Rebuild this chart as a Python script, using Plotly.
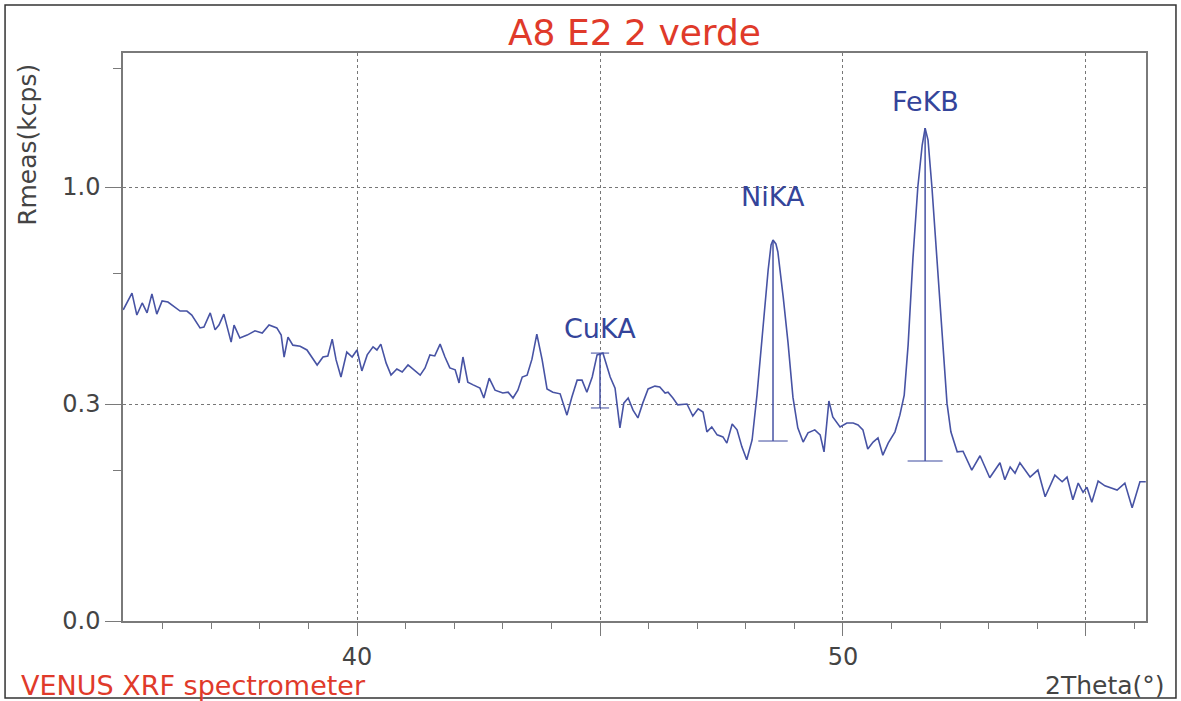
import numpy as np
import plotly.graph_objects as go

# ---- data (2Theta in degrees, Rmeas in kcps) ----
theta = [
    35.19, 35.37, 35.47, 35.58, 35.68, 35.78, 35.88, 35.99, 36.11, 36.26,
    36.36, 36.50, 36.60, 36.77, 36.85, 36.98, 37.08, 37.16, 37.26, 37.41,
    37.47, 37.59, 37.74, 37.90, 38.05, 38.19, 38.35, 38.44, 38.50, 38.58,
    38.68, 38.83, 38.97, 39.18, 39.30, 39.40, 39.49, 39.57, 39.67, 39.79,
    39.90, 40.00, 40.10, 40.21, 40.33, 40.41, 40.49, 40.60, 40.70, 40.82,
    40.93, 41.05, 41.15, 41.30, 41.40, 41.50, 41.60, 41.71, 41.81, 41.91,
    42.02, 42.10, 42.18, 42.28, 42.39, 42.53, 42.61, 42.72, 42.84, 43.00,
    43.11, 43.21, 43.31, 43.40, 43.50, 43.60, 43.70, 43.81, 43.91, 44.03,
    44.18, 44.32, 44.42, 44.53, 44.63, 44.73, 44.84, 44.94, 45.06, 45.21,
    45.31, 45.41, 45.49, 45.58, 45.68, 45.78, 45.88, 45.99, 46.13, 46.23,
    46.34, 46.40, 46.50, 46.60, 46.79, 46.91, 47.02, 47.12, 47.20, 47.30,
    47.41, 47.53, 47.61, 47.72, 47.82, 47.92, 48.02, 48.13, 48.23, 48.35,
    48.46, 48.52, 48.56, 48.62, 48.66, 48.77, 48.87, 48.97, 49.07, 49.18,
    49.28, 49.42, 49.53, 49.61, 49.71, 49.79, 49.94, 50.08, 50.21, 50.31,
    50.41, 50.51, 50.62, 50.72, 50.82, 50.93, 51.07, 51.17, 51.26, 51.34,
    51.44, 51.54, 51.63, 51.69, 51.75, 51.83, 51.93, 52.04, 52.14, 52.22,
    52.35, 52.47, 52.65, 52.82, 53.02, 53.23, 53.33, 53.44, 53.54, 53.64,
    53.85, 54.01, 54.16, 54.36, 54.51, 54.61, 54.73, 54.84, 54.94, 55.02,
    55.12, 55.25, 55.39, 55.64, 55.80, 55.95, 56.11, 56.23,
]
rmeas = [
    0.514, 0.571, 0.497, 0.537, 0.504, 0.568, 0.500, 0.544, 0.540, 0.523,
    0.510, 0.510, 0.497, 0.456, 0.459, 0.504, 0.450, 0.465, 0.500, 0.413,
    0.465, 0.425, 0.434, 0.447, 0.440, 0.465, 0.456, 0.434, 0.370, 0.428,
    0.404, 0.401, 0.390, 0.348, 0.370, 0.373, 0.422, 0.362, 0.316, 0.384,
    0.370, 0.390, 0.332, 0.376, 0.399, 0.390, 0.407, 0.353, 0.321, 0.337,
    0.329, 0.348, 0.337, 0.321, 0.340, 0.376, 0.373, 0.407, 0.370, 0.340,
    0.335, 0.301, 0.370, 0.303, 0.296, 0.288, 0.264, 0.313, 0.283, 0.276,
    0.278, 0.264, 0.283, 0.316, 0.321, 0.364, 0.437, 0.362, 0.286, 0.278,
    0.274, 0.225, 0.266, 0.308, 0.308, 0.278, 0.316, 0.376, 0.381, 0.316,
    0.288, 0.198, 0.252, 0.264, 0.236, 0.219, 0.252, 0.286, 0.293, 0.291,
    0.276, 0.278, 0.264, 0.248, 0.250, 0.223, 0.239, 0.232, 0.190, 0.200,
    0.184, 0.180, 0.168, 0.206, 0.194, 0.161, 0.138, 0.174, 0.271, 0.459,
    0.654, 0.751, 0.771, 0.755, 0.723, 0.557, 0.410, 0.266, 0.198, 0.170,
    0.188, 0.194, 0.184, 0.152, 0.257, 0.221, 0.200, 0.208, 0.208, 0.204,
    0.194, 0.157, 0.170, 0.178, 0.146, 0.168, 0.190, 0.225, 0.271, 0.404,
    0.700, 1.000, 1.203, 1.290, 1.228, 1.000, 0.700, 0.410, 0.252, 0.190,
    0.152, 0.153, 0.121, 0.145, 0.109, 0.133, 0.106, 0.126, 0.116, 0.133,
    0.110, 0.121, 0.082, 0.113, 0.103, 0.110, 0.078, 0.101, 0.088, 0.095,
    0.075, 0.104, 0.097, 0.091, 0.101, 0.068, 0.103, 0.103,
]

peak_names = ["CuKA", "NiKA", "FeKB"]
peak_theta = [45.00, 48.56, 51.69]
peak_top = [0.381, 0.771, 1.290]
peak_base = [0.241, 0.172, 0.136]
peak_top_cap = [True, False, False]

x_major = [40, 45, 50, 55]
x_labels = ["40", "", "50", ""]
y_tick_kcps = [0.0, 0.25, 1.0]
y_labels = ["0.0", "0.3", "1.0"]
y_minor_kcps = [0.12, 0.64, 1.62]

# ---- styles ----
LINE = "#4753a4"
LABEL = "#34449a"
RED = "#e03a2a"
GRID = "#777777"
FRAME = "#7a7a7a"
FONT = "DejaVu Sans"
cap_sizes = [13, 21, 25]
label_shift = [25, 43, 27]


def tr(v):
    # the spectrometer draws intensity on a square-root scale
    return np.sqrt(np.asarray(v, dtype=float))


fig = go.Figure()

fig.add_trace(go.Scatter(
    x=theta, y=tr(rmeas), mode="lines",
    line=dict(color=LINE, width=1.6), hoverinfo="skip",
))

# peak height markers (vertical bar from background to peak)
vx, vy = [], []
for t, top, base in zip(peak_theta, peak_top, peak_base):
    vx += [t, t, None]
    vy += [float(tr(base)), float(tr(top)), None]
fig.add_trace(go.Scatter(
    x=vx, y=vy, mode="lines", line=dict(color=LINE, width=1.5),
    hoverinfo="skip",
))
# bottom caps
fig.add_trace(go.Scatter(
    x=peak_theta, y=tr(peak_base), mode="markers",
    marker=dict(symbol="line-ew", size=cap_sizes,
                line=dict(color=LINE, width=1.5)),
    hoverinfo="skip",
))
# top caps
tc_x = [t for t, c in zip(peak_theta, peak_top_cap) if c]
tc_y = [v for v, c in zip(peak_top, peak_top_cap) if c]
tc_s = [s for s, c in zip(cap_sizes, peak_top_cap) if c]
fig.add_trace(go.Scatter(
    x=tc_x, y=tr(tc_y), mode="markers",
    marker=dict(symbol="line-ew", size=tc_s,
                line=dict(color=LINE, width=1.5)),
    hoverinfo="skip",
))

annotations = []
for name, t, top, sh in zip(peak_names, peak_theta, peak_top, label_shift):
    annotations.append(dict(
        x=t, y=float(tr(top)), xref="x", yref="y", text=name,
        showarrow=False, yshift=sh, xanchor="center", yanchor="middle",
        font=dict(family=FONT, size=27, color=LABEL),
    ))

annotations += [
    dict(text="Rmeas(kcps)", xref="paper", yref="paper",
         x=-0.094, y=0.838, textangle=-90, showarrow=False,
         xanchor="center", yanchor="middle",
         font=dict(family=FONT, size=25, color="#444444")),
    dict(text="VENUS XRF spectrometer", xref="paper", yref="paper",
         x=-0.1017, y=-0.114, showarrow=False,
         xanchor="left", yanchor="middle",
         font=dict(family=FONT, size=27, color=RED)),
    dict(text="2Theta(°)", xref="paper", yref="paper",
         x=1.0206, y=-0.114, showarrow=False,
         xanchor="right", yanchor="middle",
         font=dict(family=FONT, size=25, color="#444444")),
]

fig.update_layout(
    width=1181, height=701, autosize=False,
    margin=dict(l=123, r=35, t=53, b=80),
    paper_bgcolor="white", plot_bgcolor="white",
    showlegend=False,
    font=dict(family=FONT, color="#444444"),
    title=dict(text="A8 E2 2 verde", x=0.5, xref="paper", xanchor="center",
               y=1 - 32 / 701, yref="container", yanchor="middle",
               font=dict(family=FONT, size=36, color=RED)),
    annotations=annotations,
    shapes=[dict(type="rect", xref="paper", yref="paper",
                 x0=-0.1153, x1=1.0293, y0=-0.1356, y1=1.0845,
                 line=dict(color="#333333", width=1.5))],
)

fig.update_xaxes(
    range=[35.185, 56.235], tickmode="array", tickvals=x_major,
    ticktext=x_labels, ticks="outside", ticklen=13, tickwidth=1.2,
    tickcolor=FRAME, showline=True, linecolor=FRAME, linewidth=1.5,
    mirror=True, showgrid=True, gridcolor=GRID, gridwidth=1,
    griddash="dot", zeroline=False,
    tickfont=dict(family=FONT, size=24, color="#444444"),
    minor=dict(dtick=1, tick0=35, ticks="outside", ticklen=6,
               tickcolor=FRAME, tickwidth=1.2, showgrid=False),
)
fig.update_yaxes(
    range=[0, 1.3088], tickmode="array", tickvals=tr(y_tick_kcps),
    ticktext=y_labels, ticks="outside", ticklen=16, tickwidth=1.2,
    tickcolor=FRAME, showline=True, linecolor=FRAME, linewidth=1.5,
    mirror=True, showgrid=True, gridcolor=GRID, gridwidth=1,
    griddash="dot", zeroline=False,
    tickfont=dict(family=FONT, size=24, color="#444444"),
    minor=dict(tickmode="array", tickvals=tr(y_minor_kcps), ticks="outside",
               ticklen=8, tickcolor=FRAME, tickwidth=1.2, showgrid=False),
)

fig.write_html("out.html")
